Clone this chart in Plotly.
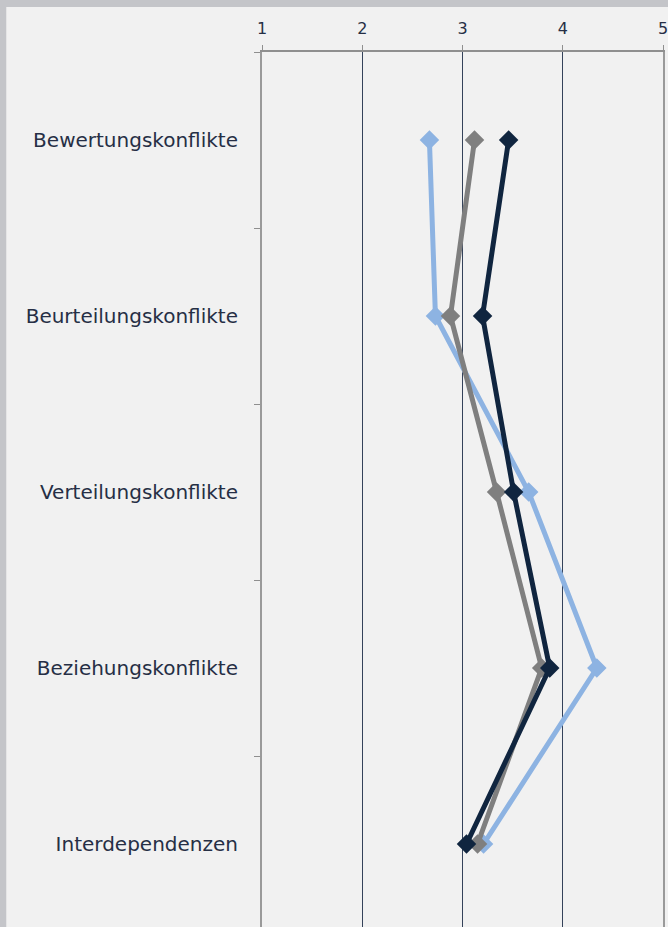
import plotly.graph_objects as go

# Conflict categories (top to bottom) and mean ratings per group
categories = [
    "Bewertungskonflikte",
    "Beurteilungskonflikte",
    "Verteilungskonflikte",
    "Beziehungskonflikte",
    "Interdependenzen",
]
series_light = [2.67, 2.73, 3.66, 4.34, 3.21]
series_gray = [3.12, 2.88, 3.34, 3.79, 3.15]
series_navy = [3.46, 3.20, 3.51, 3.87, 3.04]
x_ticks = [1, 2, 3, 4, 5]

W, H = 668, 927
L, R, T, B = 262, 3, 52, 0
plot_w = W - L - R
plot_h = H - T - B
cat_px = 176.0  # pixel height of one category band
y_bottom = -0.5 + plot_h / cat_px

fig = go.Figure()

for vals, color in [
    (series_light, "#8db3e2"),
    (series_gray, "#7f7f7f"),
    (series_navy, "#10253f"),
]:
    fig.add_trace(
        go.Scatter(
            x=vals,
            y=categories,
            mode="lines+markers",
            line=dict(color=color, width=5),
            marker=dict(symbol="diamond", size=15, color=color),
            showlegend=False,
            cliponaxis=False,
        )
    )


def px_x(p):
    return (p - L) / plot_w


def px_y(p):
    return 1 + (T - p) / plot_h


# grey frame strips along the top and left edge of the page
frame = "#c4c5c9"
fig.add_shape(type="rect", xref="paper", yref="paper", layer="below",
              x0=px_x(0), x1=px_x(W + 5), y0=px_y(7), y1=px_y(-2),
              fillcolor=frame, line_width=0)
fig.add_shape(type="rect", xref="paper", yref="paper", layer="below",
              x0=px_x(-2), x1=px_x(5), y0=px_y(H + 5), y1=px_y(0),
              fillcolor=frame, line_width=0)

fig.update_layout(
    width=W,
    height=H,
    margin=dict(l=L, r=R, t=T, b=B),
    paper_bgcolor="#f1f1f1",
    plot_bgcolor="#f1f1f1",
    font=dict(family="DejaVu Sans", color="#262f45"),
    xaxis=dict(
        side="top",
        range=[1, 5],
        tickvals=x_ticks,
        ticktext=[str(v) for v in x_ticks],
        showgrid=True,
        gridcolor="#34425a",
        gridwidth=1.3,
        showline=True,
        linecolor="#8f8f8f",
        linewidth=2,
        ticks="outside",
        ticklen=5,
        tickcolor="#8f8f8f",
        ticklabelstandoff=5,
        ticklabeloverflow="allow",
        tickfont=dict(size=16, color="#262f45"),
        zeroline=False,
    ),
    yaxis=dict(
        type="category",
        categoryorder="array",
        categoryarray=categories,
        range=[y_bottom, -0.5],
        showline=True,
        mirror=True,
        linecolor="#9a9a9a",
        linewidth=2,
        showgrid=False,
        ticks="outside",
        tickson="boundaries",
        ticklen=6,
        tickcolor="#8f8f8f",
        ticklabelstandoff=18,
        tickfont=dict(size=20, color="#262f45"),
    ),
)

fig.write_html("out.html")
